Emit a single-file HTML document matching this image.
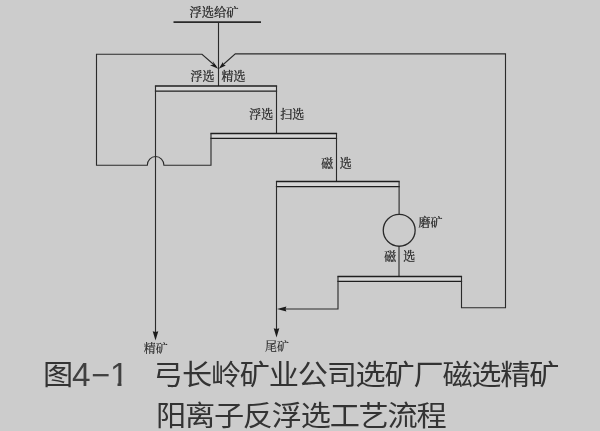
<!DOCTYPE html>
<html lang="zh-CN">
<head>
<meta charset="utf-8">
<title>图4-1 弓长岭矿业公司选矿厂磁选精矿阳离子反浮选工艺流程</title>
<style>
html,body{margin:0;padding:0;background:#cccccc;}
body{width:600px;height:431px;overflow:hidden;position:relative;font-family:"Liberation Sans","Noto Sans CJK SC",sans-serif;}
.wrap{position:absolute;left:0;top:0;width:600px;height:431px;overflow:hidden;will-change:transform;}
svg{position:absolute;left:0;top:0;display:block;}
.l{fill:none;stroke:#2a2a2a;stroke-width:1.12;}
.h{fill:none;stroke:#1e1e1e;stroke-width:1.25;}
.f{fill:#d6d6d6;stroke:none;}
.a{fill:#1c1c1c;stroke:none;}
.t{font-family:"Liberation Serif","Noto Serif CJK SC",serif;font-size:12px;fill:#1c1c1c;stroke:#1c1c1c;stroke-width:0.22;}
.cap{position:absolute;margin:0;white-space:pre;font-family:"Liberation Sans","Noto Sans CJK SC",sans-serif;font-weight:400;font-size:28.5px;line-height:40px;height:40px;color:#333;}
.cap span{position:absolute;top:0;display:block;line-height:40px;}
.cap .c{letter-spacing:-1.2px;transform-origin:0 50%;transform:scaleX(1.06);}
.cap .n{font-size:33.3px;color:#404040;}
</style>
</head>
<body>
<div class="wrap">
<svg width="600" height="431" viewBox="0 0 600 431">
  <!-- feed -->
  <path class="l" style="stroke-width:1.6" d="M173.5 22.1H261"/>
  <path class="l" d="M218.5 22V86"/>
  <!-- box 1 -->
  <rect class="f" x="155.5" y="86" width="121" height="5.1"/>
  <path class="h" style="stroke-width:1.5" d="M154.9 86H277.1"/>
  <path class="h" d="M154.9 91.15H277.1"/>
  <path class="l" d="M155.5 86V332"/>
  <path class="l" d="M276.5 86V133.4"/>
  <!-- box 2 -->
  <rect class="f" x="211" y="133.45" width="125.5" height="4.9"/>
  <path class="h" style="stroke-width:1.4" d="M210.4 133.45H337.1"/>
  <path class="h" d="M210.4 138.35H337.1"/>
  <path class="l" d="M336.5 133.4V181.5"/>
  <!-- box 3 -->
  <rect class="f" x="276.5" y="181.5" width="122.6" height="5"/>
  <path class="h" style="stroke-width:1.4" d="M275.9 181.5H399.7"/>
  <path class="h" d="M275.9 186.5H399.7"/>
  <path class="l" d="M276.5 181.5V329"/>
  <path class="l" d="M399.1 181.5V214.5"/>
  <path class="l" d="M399 246.2V276.5"/>
  <circle class="l" style="stroke-width:1.3" cx="399.2" cy="230.3" r="15.95"/>
  <!-- box 4 -->
  <rect class="f" x="338" y="276.5" width="123.5" height="4.95"/>
  <path class="h" style="stroke-width:1.4" d="M337.4 276.5H462.1"/>
  <path class="h" d="M337.4 281.45H462.1"/>
  <!-- left recycle -->
  <path class="l" d="M211 133.4V165.25H163.9A8.3 8.7 0 0 0 147.3 165.25H96.5V54.3H202L216 66.5"/>
  <!-- right recycle -->
  <path class="l" d="M461.5 276.5V307.8H505.5V53.9H235.3L221 66.5"/>
  <!-- tail from box 4 -->
  <path class="l" d="M338 276.5V309H285"/>
  <!-- arrowheads -->
  <path class="a" d="M155.5 340.4L152.7 331.2L155.5 332L158.3 331.2Z"/>
  <path class="a" d="M276.5 337.4L273.7 328.2L276.5 329L279.3 328.2Z"/>
  <path class="a" d="M277 309L286.4 306.5L285.5 309L286.4 311.5Z"/>
  <path class="a" d="M218.2 68.7L210 65.3L213.8 64.6L212.7 61.1Z"/>
  <path class="a" d="M218.8 68.7L225.8 65.4L223.2 64.6L222.9 62Z"/>
  <!-- labels -->
  <text class="t" x="189.4" y="16.6" style="font-size:12.3px">浮选给矿</text>
  <text class="t" x="190.5" y="80.8">浮选</text>
  <text class="t" x="221.5" y="80.7">精选</text>
  <text class="t" x="249.2" y="118.7">浮选</text>
  <text class="t" x="280.3" y="118.7">扫选</text>
  <text class="t" x="321.3" y="167.6">磁</text>
  <text class="t" x="339.8" y="167.6">选</text>
  <text class="t" x="418.4" y="226.5">磨矿</text>
  <text class="t" x="384.3" y="260.8">磁</text>
  <text class="t" x="403.2" y="260.8">选</text>
  <text class="t" x="143.8" y="352.6" style="stroke-width:0.1">精矿</text>
  <text class="t" x="265" y="351.2" style="stroke-width:0.1">尾矿</text>
</svg>
<p class="cap" style="left:0;top:354.8px;width:600px"><span class="c" style="left:43px;top:0.5px">图</span><span class="n" style="left:71.9px;top:0.3px">4</span><span class="n" style="left:91.1px;top:-0.3px;font-size:32.5px">−</span><span class="n" style="left:110.1px;top:0.3px;clip-path:polygon(0 0,100% 0,100% 27.5px,11.4px 27.5px,11.4px 100%,7.4px 100%,7.4px 27.5px,0 27.5px)">1</span><span style="left:126px">　</span><span class="c" style="left:153px">弓长岭矿业公司选矿厂磁选精矿</span></p>
<p class="cap" style="left:0;top:396.3px;width:600px"><span class="c" style="left:155.6px">阳离子反浮选工艺流程</span></p>
</div>
</body>
</html>
